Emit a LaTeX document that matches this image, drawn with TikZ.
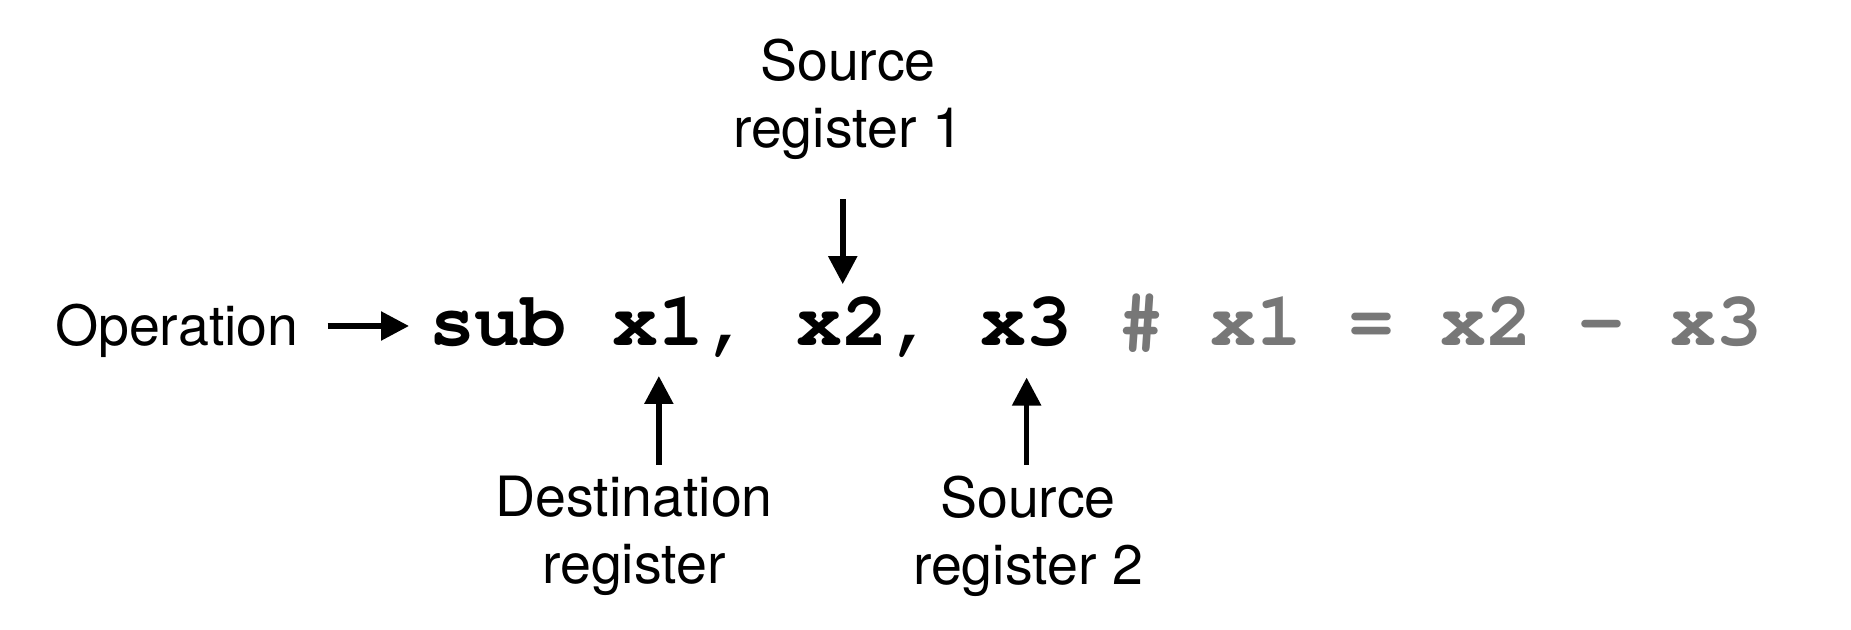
\documentclass[tikz,border=0pt]{standalone}
\usepackage[T1]{fontenc}
\usepackage{fontspec}
\setmainfont{TeX Gyre Heros}
\usetikzlibrary{arrows.meta, positioning}
\definecolor{commentgray}{HTML}{777777}

\begin{document}
\begin{tikzpicture}[
		node distance=0.4597cm,
		note/.style={inner sep=0pt, outer sep=0pt, align=center, font=\fontsize{15.8pt}{19.05pt}\selectfont},
		code/.style={inner sep=0pt, outer sep=0pt, font=\fontencoding{T1}\fontfamily{pcr}\fontseries{b}\fontsize{21.8pt}{26pt}\selectfont},
		arrow/.style={-{Triangle[length=0.28cm, width=0.28cm]}, line width=0.055cm}
		]
		\useasboundingbox (0,0) rectangle (18.51,-6.30);
		
		% Instruction
		\node[code, anchor=base west] (sub) at (4.29,-3.46) {sub};
		\node[code, base right=of sub] (xa) {x1};
		\node[code, base right=0pt of xa] (ca) {,};
		\node[code, base right=of ca] (xb) {x2};
		\node[code, base right=0pt of xb] (cb) {,};
		\node[code, base right=of cb] (xc) {x3};
		\node[code, base right=of xc, text=commentgray] (cmt) {\# x1 = x2 - x3};
		
		% Labels
		\node[note, anchor=base west] (op) at (0.55,-3.46) {Operation};
		\node[note, anchor=north] (src1) at (8.48,-0.395) {Source\\register 1};
		\node[note, anchor=north] (dst) at (6.34,-4.765) {Destination\\register};
		\node[note, anchor=north] (src2) at (10.28,-4.765) {Source\\register 2};
		
		% Arrows
		\draw[arrow, shorten <=0.29cm, shorten >=0.2cm] ([yshift=0.2cm]op.base east) -- ([yshift=0.2cm]op.base east -| sub.west);
		\draw[arrow, shorten <=0.39cm, shorten >=0.135cm] (src1.south -| xb) -- (xb.north);
		\draw[arrow, shorten <=0.115cm, shorten >=0.30cm] (dst.north -| xa) -- (xa.south);
		\draw[arrow, shorten <=0.115cm, shorten >=0.30cm] (src2.north -| xc) -- (xc.south);
		
	\end{tikzpicture}
\end{document}
